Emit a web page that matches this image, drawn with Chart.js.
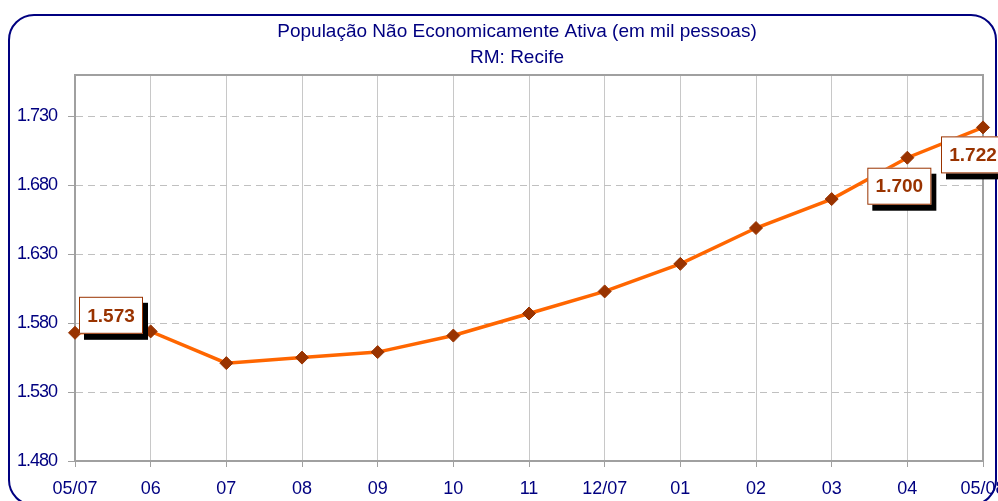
<!DOCTYPE html>
<html>
<head>
<meta charset="utf-8">
<title>População Não Economicamente Ativa - RM Recife</title>
<script src="https://cdn.jsdelivr.net/npm/chart.js@4.4.1/dist/chart.umd.min.js"></script>
<style>
  html, body { margin: 0; padding: 0; background: #fff; }
</style>
<script>
// data (mil pessoas)
const months = ['05/07', '06', '07', '08', '09', '10', '11', '12/07', '01', '02', '03', '04', '05/08'];
const pnea = [1573, 1574, 1551, 1555, 1559, 1571, 1587, 1603, 1623, 1649, 1670, 1700, 1722];
const yTicks = [1480, 1530, 1580, 1630, 1680, 1730];
const yMin = 1480;
const yMax = 1760;
const titleLines = ['População Não Economicamente Ativa (em mil pessoas)', 'RM: Recife'];
const labelled = [0, 11, 12];

// where each value box sits relative to its point
const labelOffsets = { 0: [4, -36], 11: [-40, 10], 12: [-42, 9] };

const NAVY = '#000080';
const BROWN = '#993300';
const FONT = '"Liberation Sans", Arial, sans-serif';

const fmt = v => String(v).replace(/\B(?=(\d{3})+(?!\d))/g, '.');

const decor = {
    id: 'decor',
    beforeDraw(chart) {
        const c = chart.ctx;
        c.save();
        c.fillStyle = '#fff';
        c.fillRect(0, 0, chart.width, chart.height);
        c.strokeStyle = NAVY;
        c.lineWidth = 2;
        c.beginPath();
        c.roundRect(9, 15, 987, 490, 25);
        c.stroke();
        c.fillStyle = NAVY;
        c.font = '19px ' + FONT;
        c.textAlign = 'center';
        c.fillText(titleLines[0], 517, 37);
        c.fillText(titleLines[1], 517, 63);
        c.restore();
    },
    beforeDatasetsDraw(chart) {
        const a = chart.chartArea;
        const c = chart.ctx;
        c.save();
        c.strokeStyle = '#a0a0a0';
        c.lineWidth = 2;
        c.beginPath();
        c.moveTo(a.left, a.top);
        c.lineTo(a.right, a.top);
        c.lineTo(a.right, a.bottom);
        c.stroke();
        c.restore();
    },
    afterDatasetsDraw(chart) {
        const c = chart.ctx;
        const meta = chart.getDatasetMeta(0);
        const w = 64, h = 37;
        c.save();
        c.font = 'bold 19px ' + FONT;
        c.textAlign = 'center';
        c.textBaseline = 'middle';
        labelled.forEach(i => {
            const pt = meta.data[i];
            const left = pt.x + labelOffsets[i][0];
            const top = pt.y + labelOffsets[i][1];
            c.fillStyle = '#000';
            c.fillRect(left + 5, top + 6, w, h);
            c.fillStyle = '#fff';
            c.fillRect(left, top, w, h);
            c.strokeStyle = BROWN;
            c.lineWidth = 1;
            c.strokeRect(left + 0.5, top + 0.5, w - 1, h - 1);
            c.fillStyle = BROWN;
            c.fillText(fmt(pnea[i]), left + w / 2, top + h / 2 + 1);
        });
        c.restore();
    }
};

// the value axis labels are set tighter than normal in the original
const tightYLabels = {
    id: 'tightYLabels',
    afterLayout(chart) {
        const s = chart.scales.y;
        if (s.__tight) return;
        const orig = s.drawLabels;
        s.drawLabels = function (area) {
            this.ctx.save();
            this.ctx.letterSpacing = '-1px';
            orig.call(this, area);
            this.ctx.restore();
        };
        s.__tight = true;
    }
};

window.onload = () => {
    new Chart(document.getElementById('pnea').getContext('2d'), {
        type: 'line',
        data: {
            labels: months,
            datasets: [{
                label: 'PNEA',
                data: pnea,
                borderColor: '#ff6600',
                borderWidth: 3.5,
                pointStyle: 'rectRot',
                pointRadius: 6.5,
                pointBackgroundColor: BROWN,
                pointBorderColor: BROWN,
                pointBorderWidth: 1,
                tension: 0,
                clip: false
            }]
        },
        options: {
            responsive: false,
            animation: false,
            layout: { padding: { top: 75, right: 15, left: 0, bottom: 0 } },
            plugins: {
                legend: { display: false },
                title: { display: false },
                tooltip: { enabled: false }
            },
            scales: {
                x: {
                    type: 'category',
                    offset: false,
                    grid: { color: '#c8c8c8', tickColor: '#a0a0a0', tickLength: 6, tickBorderDash: [] },
                    border: { color: '#a0a0a0', width: 2 },
                    ticks: {
                        color: NAVY,
                        font: { family: FONT, size: 18 },
                        padding: 11,
                        maxRotation: 0,
                        autoSkip: false
                    },
                    afterFit(scale) {
                        scale.height = 40;
                        scale.paddingLeft = 0;
                        scale.paddingRight = 0;
                    }
                },
                y: {
                    min: yMin,
                    max: yMax,
                    grid: {
                        color: ctx => ctx.tick && ctx.tick.value === yMin ? 'rgba(0,0,0,0)' : '#c0c0c0',
                        tickColor: '#a0a0a0',
                        tickLength: 7,
                        tickBorderDash: []
                    },
                    border: { color: '#a0a0a0', width: 2, dash: [7, 5] },
                    ticks: {
                        color: NAVY,
                        font: { family: FONT, size: 18 },
                        padding: 11,
                        callback: v => fmt(v)
                    },
                    afterBuildTicks(scale) {
                        scale.ticks = yTicks.map(v => ({ value: v }));
                    },
                    afterFit(scale) {
                        scale.width = 75;
                        scale.paddingTop = 0;
                        scale.paddingBottom = 0;
                    }
                }
            }
        },
        plugins: [decor, tightYLabels]
    });
};
</script>
</head>
<body>
    <canvas id="pnea" width="998" height="501"></canvas>
</body>
</html>
